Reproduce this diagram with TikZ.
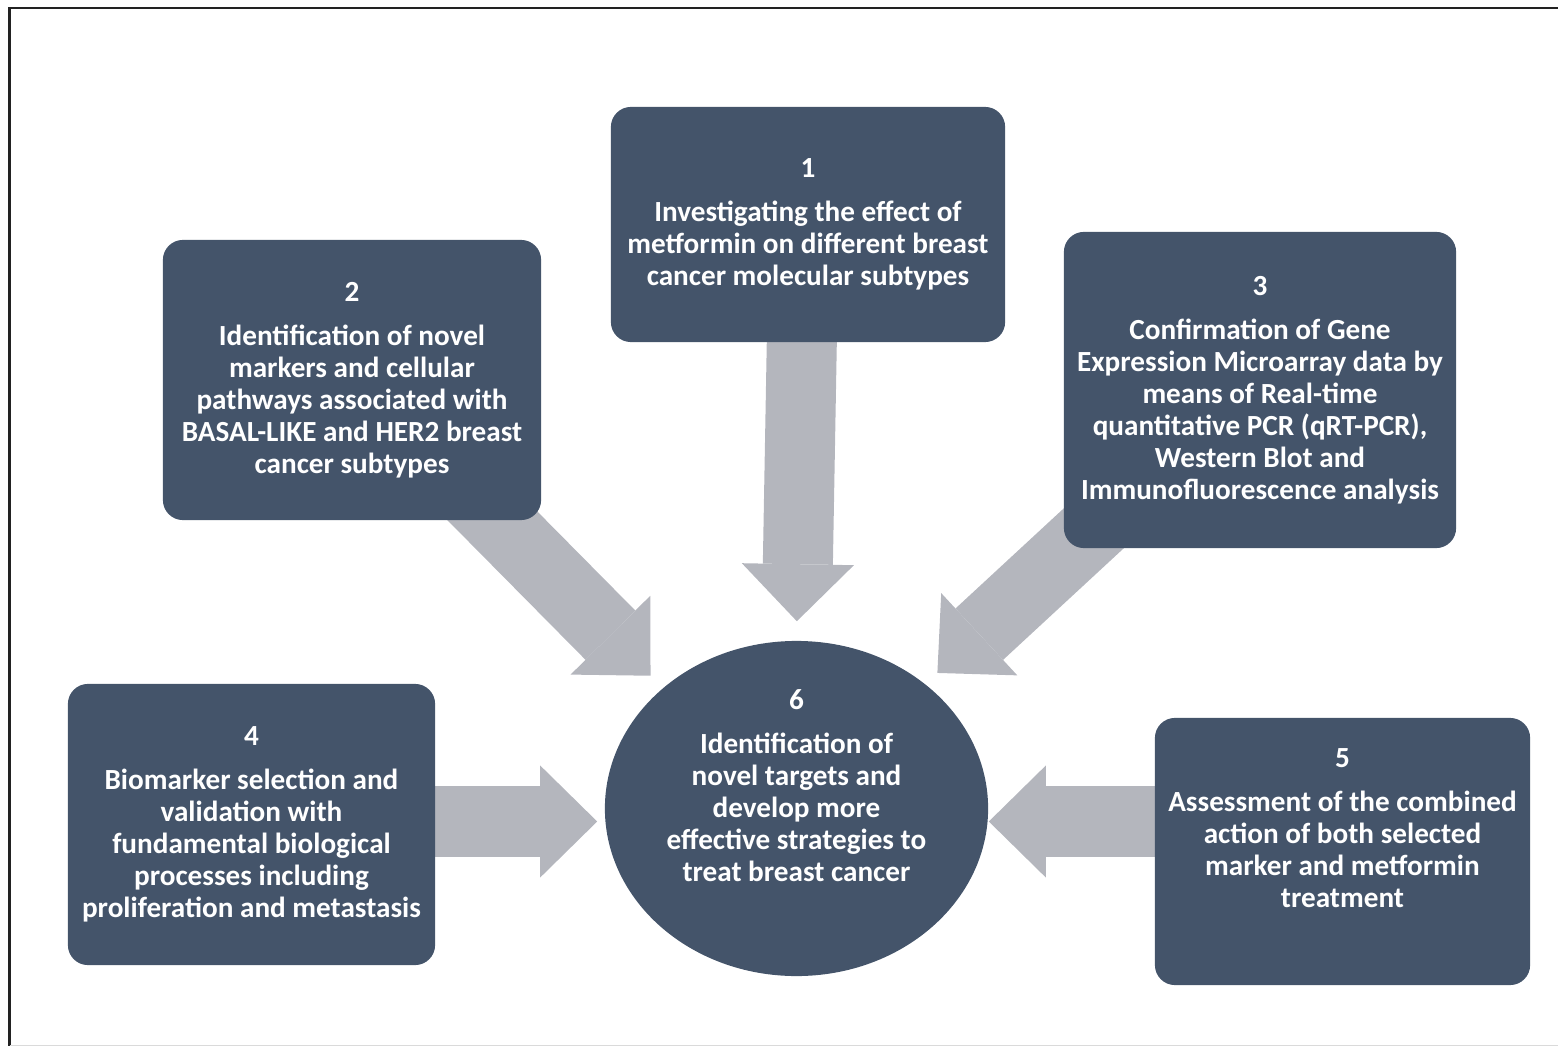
\documentclass[tikz,border=0pt]{standalone}
\usepackage{fontspec}
\setmainfont{Carlito}
\usepackage{xcolor}
\usetikzlibrary{arrows.meta, shapes.geometric, positioning, calc}

\definecolor{boxblue}{HTML}{44546A}
\definecolor{arrowgray}{HTML}{B4B6BD}
\definecolor{framedark}{HTML}{222222}
\definecolor{framelight}{HTML}{DADADA}

\pgfdeclarelayer{bg}
\pgfsetlayers{bg,main}

\tikzset{
    panel/.style={rectangle, rounded corners=0.2cm, fill=boxblue, text=white,
        align=center, inner sep=0pt, font=\bfseries\fontsize{8.3}{9.1}\selectfont},
    hub/.style={ellipse, fill=boxblue, text=white, align=center, inner sep=0pt,
        font=\bfseries\fontsize{8.3}{9.1}\selectfont},
    bigarrow/.style={color=arrowgray, line width=0.7cm,
        -{Triangle[width=1.12cm, length=0.57cm, line width=0pt]}}
}

\begin{document}
\begin{tikzpicture}[x=0.01cm, y=-0.01cm]
        \useasboundingbox (0,0) rectangle (1558,1046);

        % frame
        \draw[framedark, line width=0.025cm] (9.5,1046) -- (9.5,8) -- (1558,8);
        \draw[framelight, line width=0.01cm] (9.5,1045) -- (1558,1045);

        % boxes
        \node[panel, minimum width=3.94cm, minimum height=2.35cm] (b1) at (808,224.5)
            {1\\[0.12cm] Investigating the effect of\\ metformin on different breast\\
            cancer molecular subtypes};
        \node[panel, minimum width=3.78cm, minimum height=2.8cm] (b2) at (352,380)
            {2\\[0.12cm] Identification of novel\\ markers and cellular\\
            pathways associated with\\ BASAL-LIKE and HER2 breast\\ cancer subtypes};
        \node[panel, minimum width=3.92cm, minimum height=3.16cm] (b3) at (1260,390)
            {3\\[0.12cm] Confirmation of Gene\\ Expression Microarray data by\\
            means of Real-time\\ quantitative PCR (qRT-PCR),\\ Western Blot and\\
            Immunofluorescence analysis};
        \node[panel, minimum width=3.67cm, minimum height=2.81cm] (b4) at (251.5,824.5)
            {4\\[0.12cm] Biomarker selection and\\ validation with\\
            fundamental biological\\ processes including\\ proliferation and metastasis};
        \node[panel, minimum width=3.75cm, minimum height=2.67cm, text depth=0.47cm] (b5) at (1342.5,851.5)
            {5\\[0.12cm] Assessment of the combined\\ action of both selected\\
            marker and metformin\\ treatment};

        % centre
        \node[hub, minimum width=3.83cm, minimum height=3.33cm, text depth=0.45cm] (c6) at (796.5,808.5)
            {6\\[0.12cm] Identification of\\ novel targets and\\ develop more\\
            effective strategies to\\ treat breast cancer};

        % arrows
        \begin{pgfonlayer}{bg}
            \draw[bigarrow, shorten >=0.19cm] ($(b1.south)+(-6,-12)$) -- (c6.north);
            \draw[bigarrow, shorten >=0.17cm] ($(b2.south east)+(-94,-50)$) -- (c6.138);
            \draw[bigarrow, shorten >=0.16cm] ($(b3.south west)+(56,-44)$) -- (c6.44);
            \draw[bigarrow, shorten >=0.07cm] ($(b4.east)+(-10,-3)$) -- ($(b4.east -| c6.west)+(0,-3)$);
            \draw[bigarrow] ($(b5.west)+(10,-30)$) -- ($(b5.west -| c6.east)+(0,-30)$);
        \end{pgfonlayer}
\end{tikzpicture}
\end{document}
